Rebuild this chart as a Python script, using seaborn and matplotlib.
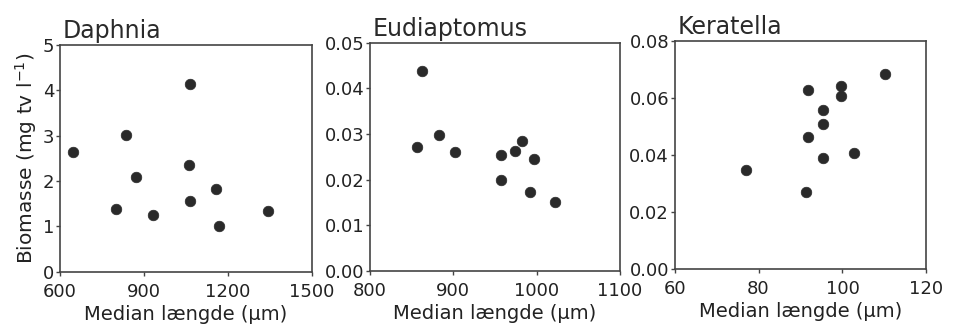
import matplotlib
matplotlib.use("Agg")
import matplotlib.pyplot as plt
import seaborn as sns
import pandas as pd

# Data
daphnia_x = [645, 836, 801, 870, 933, 1064, 1062, 1064, 1156, 1168, 1345]
daphnia_y = [2.65, 3.01, 1.38, 2.10, 1.26, 4.14, 2.35, 1.57, 1.83, 1.02, 1.35]

eudia_x = [862, 856, 883, 902, 957, 957, 974, 982, 997, 992, 1022]
eudia_y = [0.0438, 0.0271, 0.0299, 0.0261, 0.0254, 0.0200, 0.0262, 0.0285, 0.0245, 0.0174, 0.0150]

kera_x = [76.9, 91.4, 91.8, 91.8, 95.4, 95.4, 95.4, 99.7, 99.7, 102.8, 110.1]
kera_y = [0.0347, 0.0271, 0.0628, 0.0462, 0.0558, 0.0509, 0.0389, 0.0642, 0.0608, 0.0407, 0.0684]

titles = ["Daphnia", "Eudiaptomus", "Keratella"]
xlabel = "Median længde (µm)"
ylabel = "Biomasse (mg tv l$^{\\mathregular{-1}}$)"

sns.set_style("ticks")
plt.rcParams['font.family'] = ['DejaVu Sans']

fig = plt.figure(figsize=(9.61, 3.32), dpi=100)
positions = [
    [0.0624, 0.181, 0.262, 0.684],
    [0.385, 0.184, 0.260, 0.687],
    [0.702, 0.190, 0.262, 0.687],
]
panels = [
    (daphnia_x, daphnia_y, (600, 1500), [600, 900, 1200, 1500], (0, 5), [0, 1, 2, 3, 4, 5], "{:.0f}"),
    (eudia_x, eudia_y, (800, 1100), [800, 900, 1000, 1100], (0, 0.05), [0, 0.01, 0.02, 0.03, 0.04, 0.05], "{:.2f}"),
    (kera_x, kera_y, (60, 120), [60, 80, 100, 120], (0, 0.08), [0, 0.02, 0.04, 0.06, 0.08], "{:.2f}"),
]
dark = "#2a2a2a"
for i, (pos, (xs, ys, xl, xt, yl, yt, fmt)) in enumerate(zip(positions, panels)):
    ax = fig.add_axes(pos)
    df = pd.DataFrame({"x": xs, "y": ys})
    sns.scatterplot(data=df, x="x", y="y", ax=ax, s=58, color=dark, edgecolor=dark, linewidth=0.5)
    ax.set_xlim(*xl)
    ax.set_ylim(*yl)
    ax.set_xticks(xt)
    ax.set_yticks(yt)
    ax.set_yticklabels([fmt.format(v) for v in yt])
    ax.set_xticklabels([str(v) for v in xt])
    for sp in ax.spines.values():
        sp.set_visible(True)
        sp.set_color("#444444")
        sp.set_linewidth(1.2)
    ax.tick_params(axis="both", direction="out", length=3, width=1, colors="#444444",
                   labelcolor="#222222", labelsize=13)
    ax.tick_params(axis="x", pad=5)
    ax.tick_params(axis="y", pad=1)
    ax.set_xlabel(xlabel, fontsize=14, color="#222222", labelpad=3)
    if i == 0:
        ax.set_ylabel(ylabel, fontsize=14.5, color="#222222", labelpad=3)
    else:
        ax.set_ylabel("")
    ax.text(0.01, 1.03, titles[i], transform=ax.transAxes, fontsize=17, color="#2a2a2a",
            ha="left", va="baseline")

fig.savefig("out.png", dpi=100, facecolor="white")
